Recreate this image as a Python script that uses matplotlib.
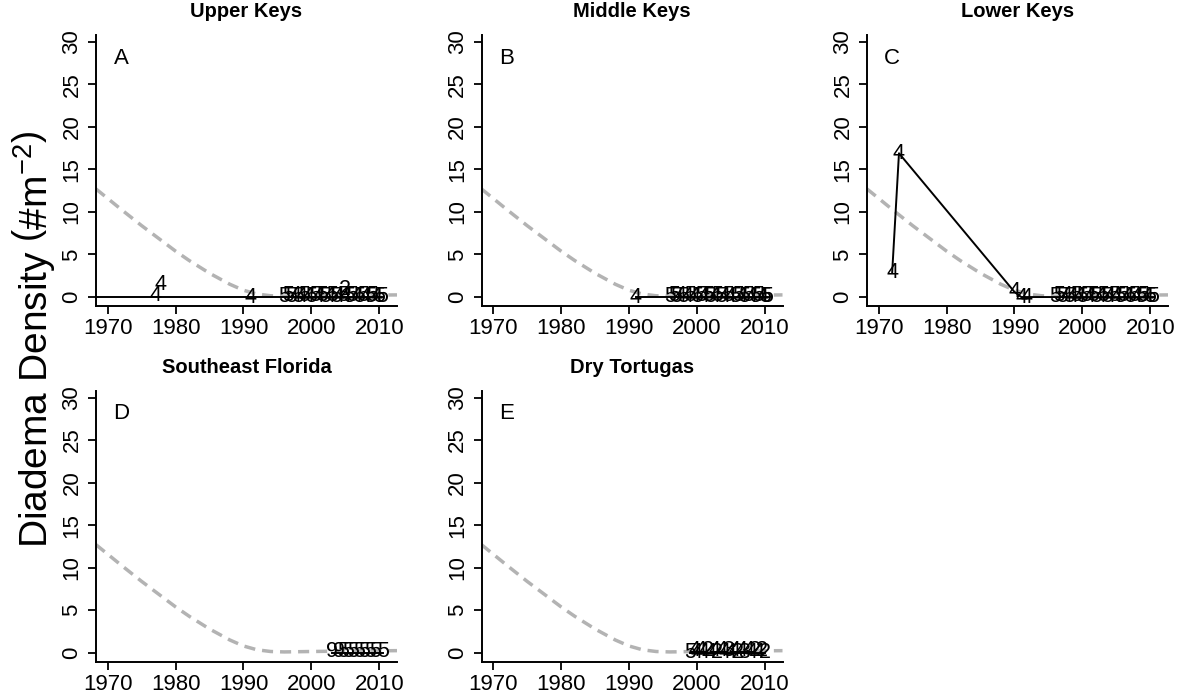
import numpy as np
import matplotlib
matplotlib.use('Agg')
import matplotlib.pyplot as plt

plt.rcParams['font.family'] = 'Liberation Sans'
plt.rcParams['mathtext.fontset'] = 'custom'
plt.rcParams['mathtext.rm'] = 'Liberation Sans'
plt.rcParams['mathtext.it'] = 'Liberation Sans'
plt.rcParams['mathtext.bf'] = 'Liberation Sans:bold'

# baseline curve (grey dashed)
fit_years = [1968.3, 1970, 1972, 1975, 1978, 1980, 1982, 1985, 1988, 1990, 1992, 1994, 1996, 2000, 2005, 2012.6]
fit_vals = [12.7, 11.6, 10.3, 8.4, 6.6, 5.4, 4.3, 2.8, 1.5, 0.8, 0.35, 0.15, 0.1, 0.15, 0.2, 0.25]

# recent survey years shared by the Keys panels
recent_years = [1996, 1996.6, 1997, 1997.6, 1998, 1998.6, 1999, 1999.6, 2000, 2000.6,
                2001, 2001.6, 2002, 2002.6, 2003, 2003.6, 2004, 2004.6, 2005, 2005.6,
                2006, 2006.6, 2007, 2007.6, 2008, 2008.6, 2009, 2009.6, 2010, 2010.4]
recent_vals = [0.1, 0.2, 0.1, 0.2, 0.1, 0.1, 0.2, 0.1, 0.1, 0.2,
               0.1, 0.2, 0.1, 0.1, 0.2, 0.1, 0.1, 0.2, 0.1, 0.1,
               0.2, 0.1, 0.1, 0.2, 0.1, 0.1, 0.2, 0.1, 0.1, 0.1]
recent_labels = ['5', '5', '5', '4', '5', '4', '5', '4', '5', '5',
                 '4', '5', '5', '4', '5', '5', '4', '5', '4', '5',
                 '5', '4', '5', '5', '4', '5', '5', '4', '5', '5']

# Upper Keys
A_years = [1977, 1977.8, 1991] + recent_years + [2005]
A_vals = [0.2, 1.5, 0.0] + recent_vals + [0.9]
A_labels = ['4', '4', '4'] + recent_labels + ['2']
A_line_years = [1960, 1977, 1991, 1996, 2010.4]
A_line_vals = [0, 0, 0, 0, 0]

# Middle Keys
B_years = [1991] + recent_years
B_vals = [0.0] + recent_vals
B_labels = ['4'] + recent_labels
B_line_years = [1991, 1996, 2010.4]
B_line_vals = [0, 0, 0]

# Lower Keys
C_years = [1972, 1973, 1990, 1991, 1991.8] + recent_years
C_vals = [2.9, 16.9, 0.6, 0.0, 0.0] + recent_vals
C_labels = ['4', '4', '4', '4', '4'] + recent_labels
C_line_years = [1972, 1973, 1990, 1991, 1991.8, 1996, 2010.4]
C_line_vals = [2.9, 16.9, 0.6, 0, 0, 0, 0]

# Southeast Florida
D_years = [2003, 2004, 2004.6, 2005.4, 2006.2, 2007, 2007.8, 2008.6, 2009.4, 2010.6]
D_vals = [0.1, 0.1, 0.1, 0.1, 0.1, 0.1, 0.1, 0.1, 0.1, 0.1]
D_labels = ['9', '9', '5', '5', '5', '5', '5', '5', '5', '5']
D_line_years = [2003, 2010.6]
D_line_vals = [0, 0]

# Dry Tortugas
E_years = [1999, 1999.6, 2000, 2000.6, 2001, 2001.6, 2002, 2002.6, 2003, 2003.6,
           2004, 2004.6, 2005, 2005.6, 2006, 2006.6, 2007, 2007.6, 2008, 2008.6, 2009, 2009.6, 2010]
E_vals = [0.0, 0.3, 0.0, 0.3, 0.0, 0.3, 0.0, 0.3, 0.0, 0.3,
          0.0, 0.3, 0.0, 0.3, 0.0, 0.3, 0.0, 0.3, 0.0, 0.3, 0.0, 0.3, 0.0]
E_labels = ['5', '4', '4', '4', '4', '2', '4', '4', '2', '4',
            '4', '3', '4', '4', '2', '4', '3', '4', '4', '2', '4', '2', '2']
E_line_years = [1999, 2010]
E_line_vals = [0, 0]

panels = [
    ('Upper Keys', 'A', A_years, A_vals, A_labels, A_line_years, A_line_vals),
    ('Middle Keys', 'B', B_years, B_vals, B_labels, B_line_years, B_line_vals),
    ('Lower Keys', 'C', C_years, C_vals, C_labels, C_line_years, C_line_vals),
    ('Southeast Florida', 'D', D_years, D_vals, D_labels, D_line_years, D_line_vals),
    ('Dry Tortugas', 'E', E_years, E_vals, E_labels, E_line_years, E_line_vals),
]

xticks = [1970, 1980, 1990, 2000, 2010]
yticks = [0, 5, 10, 15, 20, 25, 30]

fig = plt.figure(figsize=(11.84, 7), dpi=100)
lefts = [0.0811, 0.4067, 0.7323]
bottoms = [0.5629, 0.0547]
w, h = 0.2542, 0.3871

for i, (title, letter, yrs, vals, labs, lyrs, lvals) in enumerate(panels):
    ax = fig.add_axes([lefts[i % 3], bottoms[i // 3], w, h])
    ax.plot(fit_years, fit_vals, color='#b3b3b3', lw=2.5, dashes=(3.2, 2.0), zorder=1)
    ax.plot(lyrs, lvals, color='black', lw=1.4, zorder=2)
    for x, y, s in zip(yrs, vals, labs):
        ax.text(x, y, s, ha='center', va='center', fontsize=15.5, color='black', zorder=3,
                clip_on=True)
    ax.set_xlim(1968.3, 2012.6)
    ax.set_ylim(-1.05, 30.8)
    ax.set_xticks(xticks)
    ax.set_yticks(yticks)
    ax.set_yticklabels([str(t) for t in yticks], rotation=90, va='center')
    ax.tick_params(axis='both', labelsize=16, length=5.8, width=1.3, direction='out')
    ax.tick_params(axis='x', pad=3)
    ax.tick_params(axis='y', pad=4)
    for side in ['top', 'right']:
        ax.spines[side].set_visible(False)
    for side in ['left', 'bottom']:
        ax.spines[side].set_linewidth(1.4)
    ax.text(0.5, 1.085, title, transform=ax.transAxes, ha='center', va='center',
            fontsize=14.5, fontweight='bold')
    ax.text(0.083, 0.915, letter, transform=ax.transAxes, ha='center', va='center',
            fontsize=16)

fig.text(0.028, 0.515, r'Diadema Density $\left(\#\mathrm{m}^{-2}\right)$', rotation=90,
         ha='center', va='center', fontsize=28)

fig.savefig('out.png', dpi=100)
